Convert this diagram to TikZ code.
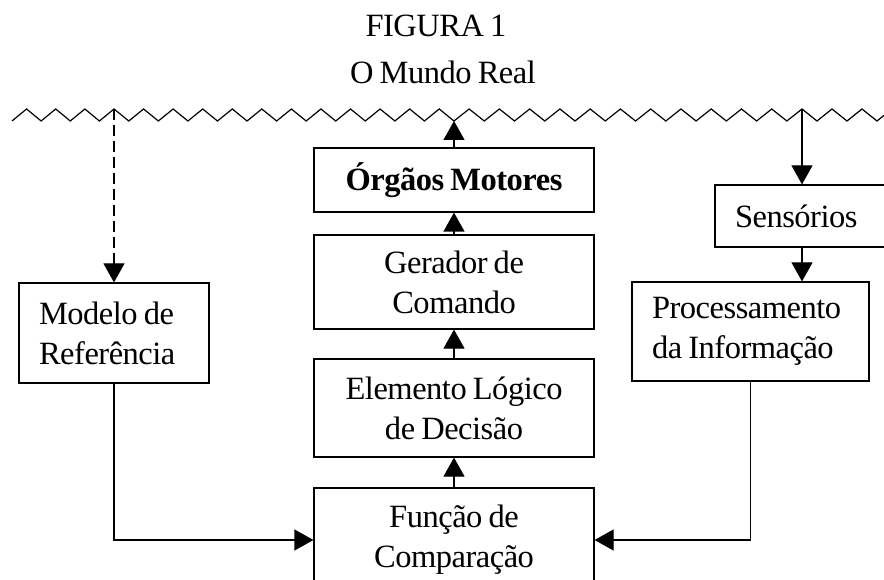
\documentclass[tikz,border=0pt]{standalone}
\usepackage{fontspec}
\setmainfont{Liberation Serif}[LetterSpace=-1.5,WordSpace=0.8]
\usetikzlibrary{arrows.meta}
\tikzset{
  box/.style={draw, line width=1.2pt, rectangle, inner sep=0pt, font=\fontsize{32.5}{40}\selectfont},
  cbox/.style={box, align=center},
  lbox/.style={box, align=flush left, inner xsep=20pt},
  conn/.style={line width=1.2pt, -{Triangle[length=19pt,width=21pt]}},
  plain/.style={line width=1.2pt},
  zz/.style={line width=1.2pt, line join=miter},
  ttl/.style={font=\fontsize{32.5}{36}\selectfont, anchor=base}
}
\begin{document}
\begin{tikzpicture}[x=1pt,y=1pt]
\useasboundingbox (0,0) rectangle (884,-580);
\clip (0,0) rectangle (884,-580);
\fill[white] (0,0) rectangle (884,-580);
% titles
\node[ttl] (t1) at (436,-37) {FIGURA 1};
\node[ttl] (t2) at (443,-84) {O Mundo Real};
% wavy line (the real world)
\draw[zz] (12,-121)
  \foreach \j in {0,...,2} { -- ({12+(2*\j+1)*14.571},-109) -- ({12+(2*\j+2)*14.571},-121) }
  -- (114,-109)
  \foreach \j in {0,...,10} { -- ({114+(2*\j+1)*14.783},-121) -- ({114+(2*\j+2)*14.783},-109) }
  -- (454,-121)
  \foreach \j in {0,...,10} { -- ({454+(2*\j+1)*15.13},-109) -- ({454+(2*\j+2)*15.13},-121) }
  -- (802,-109)
  \foreach \j in {0,...,3} { -- ({802+(2*\j+1)*15},-121) -- ({802+(2*\j+2)*15},-109) };
\coordinate (wA) at (114,-109);
\coordinate (wB) at (454,-121);
\coordinate (wC) at (802,-109);
% boxes
\node[lbox, text width=150pt, minimum height=100pt] (modelo) at (114,-333) {Modelo de\\Referência};
\node[cbox, minimum width=280pt, minimum height=64pt] (orgaos) at (454,-180) {\bfseries Órgãos Motores};
\node[cbox, minimum width=280pt, minimum height=94pt] (gerador) at (454,-282) {Gerador de\\Comando};
\node[cbox, minimum width=280pt, minimum height=98pt] (elemento) at (454,-408) {Elemento Lógico\\de Decisão};
\node[cbox, minimum width=280pt, minimum height=104pt] (funcao) at (454,-540) {Função de\\Comparação};
\node[lbox, text width=134pt, minimum height=62pt] (sens) at (802,-216) {Sensórios};
\node[lbox, text width=197pt, minimum height=99pt] (proc) at (750.5,-331.5) {Processamento\\da Informação};
% connectors
\draw[conn, dash pattern=on 11pt off 5pt] (wA) -- (modelo.north);
\draw[conn] (orgaos.north) -- (wB);
\draw[conn] (gerador.north) -- (orgaos.south);
\draw[conn] (elemento.north) -- (gerador.south);
\draw[conn] (funcao.north) -- (elemento.south);
\draw[conn] (wC) -- (sens.north);
\draw[conn] (sens.south) -- (sens.south |- proc.north);
\draw[conn] (modelo.south) |- (funcao.west);
\draw[conn] (proc.south) |- (funcao.east);
\end{tikzpicture}
\end{document}
